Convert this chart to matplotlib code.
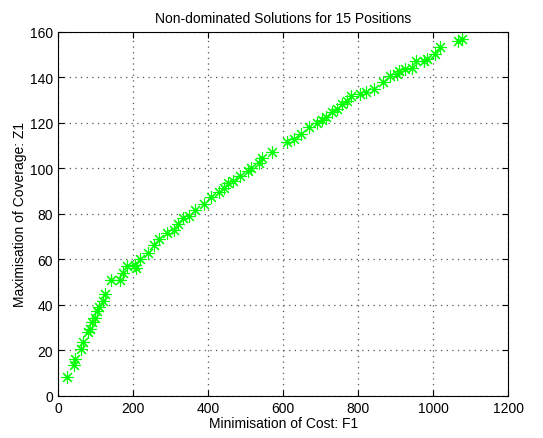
import matplotlib
matplotlib.use('Agg')
import matplotlib.pyplot as plt

plt.rcParams['font.family'] = ['Liberation Sans', 'DejaVu Sans']

# cost F1 and coverage Z1
cost = [24, 42, 45, 61, 67, 80, 84, 90, 99, 104, 110, 119, 126,
        142, 166, 172, 184, 206, 208, 219, 240, 256, 270, 290, 310,
        320, 333, 348, 366, 388, 408, 428, 441, 454, 467, 484, 505,
        514, 536, 544, 570,
        609, 628, 648, 669, 691, 704, 713, 730, 743, 756, 769, 782,
        804, 820, 843, 866, 885, 904, 909, 926, 943, 953, 976, 984,
        1004, 1018, 1066, 1078]
coverage = [8.5, 13.5, 16.4, 20.4, 23.6, 28, 29.4, 32.5, 34.4, 37.3, 39.1, 41.6, 45,
            51, 51, 54, 57, 57.5, 56, 60, 63, 66.5, 69, 71.8, 73,
            75.5, 78, 79, 81.7, 84.3, 87.5, 89.8, 91.4, 93.6, 94.3, 96.5, 98.7,
            100, 102.3, 104.4, 107,
            111.7, 113.1, 115.3, 118.2, 119.8, 121.1, 122.6, 124.7, 126.1, 128.3, 129.7, 131.9,
            132.6, 133.8, 134.7, 137.8, 140.7, 141.4, 142.9, 143.6, 144, 147, 147.3, 148,
            150.2, 153.2, 156, 156.8]

xticks = [0, 200, 400, 600, 800, 1000, 1200]
yticks = [0, 20, 40, 60, 80, 100, 120, 140, 160]

fig = plt.figure(figsize=(5.43, 4.39), dpi=100)
ax = fig.add_axes([0.107, 0.096, 0.829, 0.829])

ax.plot(cost, coverage, linestyle='none', marker=(8, 2, 0), markersize=9,
        markeredgewidth=0.8, color=(0, 1, 0))

ax.set_xlim(0, 1200)
ax.set_ylim(0, 160)
ax.set_xticks(xticks)
ax.set_yticks(yticks)
ax.grid(True, linestyle=(0, (1, 3.5)), color='#555555', linewidth=0.9)
ax.tick_params(direction='in', top=True, right=True, labelsize=10, length=4)
for s in ax.spines.values():
    s.set_linewidth(0.8)

ax.set_title('Non-dominated Solutions for 15 Positions', fontsize=10, pad=7)
ax.set_xlabel('Minimisation of Cost: F1', fontsize=10, labelpad=1)
ax.set_ylabel('Maximisation of Coverage: Z1', fontsize=10, labelpad=2)

fig.savefig('out.png', dpi=100)
